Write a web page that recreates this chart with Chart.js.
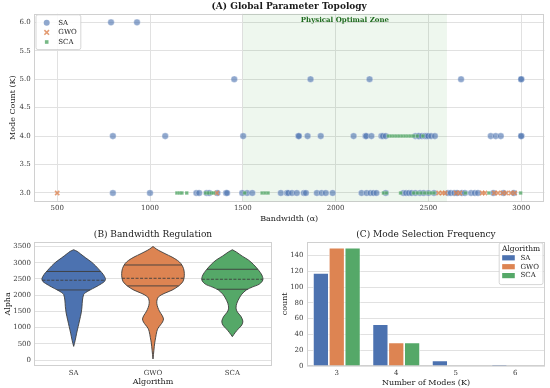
<!DOCTYPE html>
<html>
<head>
<meta charset="utf-8">
<script src="https://cdn.jsdelivr.net/npm/chart.js@4.4.1/dist/chart.umd.min.js"></script>
<style>
html, body { margin: 0; padding: 0; background: #ffffff; }
#wrap { position: relative; width: 550px; height: 388px; }
#wrap canvas { position: absolute; left: 0; top: 0; }
</style>
</head>
<body>
<div id="wrap">
  <canvas id="cA" width="550" height="388"></canvas>
  <canvas id="cB" width="550" height="388"></canvas>
  <canvas id="cC" width="550" height="388"></canvas>
</div>
<script>
// ---------------- DATA ----------------
const ALGORITHMS = ['SA', 'GWO', 'SCA'];
const SERIES_COLORS = ['#4c72b0', '#dd8452', '#55a868'];

// (A) Global Parameter Topology: bandwidth (alpha) per mode count K
const SA_K3_ALPHA = [800, 1000, 1250, 1265, 1305, 1320, 1363, 1410, 1415, 1497, 1523, 1551, 1705, 1738, 1745, 1765, 1791, 1829, 1840, 1899, 1925, 1947, 1984, 2140, 2167, 2188, 2204, 2220, 2270, 2365, 2380, 2395, 2410, 2430, 2455, 2475, 2500, 2530, 2605, 2620, 2640, 2655, 2680, 2697, 2730, 2750, 2767, 2850, 2905, 2960];
const SA_K4_ALPHA = [800, 1082, 1502, 1800, 1802, 1849, 1920, 2097, 2161, 2165, 2193, 2247, 2255, 2270, 2430, 2445, 2450, 2465, 2480, 2490, 2500, 2515, 2535, 2836, 2863, 2890, 3000, 3000];
const SA_K5_ALPHA = [1454, 1865, 2183, 2676, 3000, 3000];
const SA_K6_ALPHA = [790, 930];
const GWO_K3_ALPHA = [500, 1360, 2555, 2575, 2590, 2650, 2670, 2790, 2805, 2855, 2875, 2900, 2920, 2945, 2965];
const SCA_K3_ALPHA = [1145, 1160, 1172, 1198, 1300, 1315, 1330, 1342, 1510, 1604, 1620, 1636, 2258, 2274, 2350, 2420, 2440, 2460, 2480, 2500, 2515, 2530, 2700, 2826, 2997];
const SCA_K4_ALPHA = [2285, 2300, 2315, 2330, 2345, 2360, 2375, 2390, 2405, 2420, 2440, 2470];
const A_X_TICKS = [500, 1000, 1500, 2000, 2500, 3000];
const A_Y_TICKS = [3.0, 3.5, 4.0, 4.5, 5.0, 5.5, 6.0];
const OPTIMAL_ZONE = [1500, 2600];

// (B) Bandwidth Regulation: violin density profiles (alpha grid, top to bottom)
const SA_VIOLIN_ALPHA   = [3400, 3350, 3276, 3150, 3020, 2900, 2766, 2640, 2511, 2430, 2358, 2250, 2154, 2080, 2021, 1850, 1644, 1450, 1236, 1030, 828, 600, 420];
const SA_VIOLIN_DENSITY = [0, 3.5, 6.7, 12, 17.8, 22, 26, 29.5, 31.7, 31, 28, 22, 16, 12, 10, 8.8, 8.3, 7.5, 6, 4.5, 3, 1.5, 0];
const GWO_VIOLIN_ALPHA   = [3500, 3420, 3378, 3280, 3174, 3070, 2970, 2820, 2664, 2530, 2409, 2280, 2154, 2050, 1950, 1850, 1746, 1620, 1490, 1380, 1266, 1170, 1083, 980, 879, 700, 522, 300, 32];
const GWO_VIOLIN_DENSITY = [0, 3.5, 5.8, 12, 19, 24.5, 28, 30.5, 31.3, 31, 29.7, 25.5, 19, 11, 5.5, 4, 3.8, 4.8, 6.7, 9, 10.5, 9.5, 7.5, 5, 3.8, 2.7, 1.7, 0.9, 0];
const SCA_VIOLIN_ALPHA   = [3400, 3330, 3200, 3086, 2950, 2777, 2620, 2470, 2340, 2250, 2160, 2030, 1913, 1750, 1600, 1480, 1350, 1200, 1080, 960, 850, 720];
const SCA_VIOLIN_DENSITY = [0, 4, 10, 16, 21, 26, 29.5, 30.5, 27, 20, 14, 9.5, 7, 4.5, 3.7, 5, 8.5, 10.5, 9.5, 6, 3, 0];
const SA_QUARTILES  = [2160, 2460, 2730];
const GWO_QUARTILES = [2285, 2520, 2930];
const SCA_QUARTILES = [2182, 2490, 2798];
const B_Y_TICKS = [0, 500, 1000, 1500, 2000, 2500, 3000, 3500];

// (C) Mode Selection Frequency
const MODE_CATEGORIES = ['3', '4', '5', '6'];
const SA_COUNTS  = [118, 53, 7, 2];
const GWO_COUNTS = [150, 30, 0, 0];
const SCA_COUNTS = [150, 30, 0, 0];
const C_Y_TICKS = [0, 20, 40, 60, 80, 100, 120, 140];

// ---------------- HELPERS ----------------
const FONT = "'DejaVu Serif', 'Liberation Serif', serif";
const GRID = '#e1e1e1';
const FRAME = '#d0d0d0';
const TICK_COLOR = '#3a3a3a';
const TITLE_COLOR = '#1a1a1a';
Chart.defaults.font.family = FONT;
Chart.defaults.color = TICK_COLOR;

const toPoints = (alphas, k) => alphas.map(a => ({ x: a, y: k }));
const setTicks = values => s => { s.ticks = values.map(v => ({ value: v })); };
const fixW = w => s => { s.width = w; };
const fixH = h => s => { s.height = h; };
const plain = v => String(v);
function hexA(hex, a) {
  const n = parseInt(hex.slice(1), 16);
  return `rgba(${(n >> 16) & 255},${(n >> 8) & 255},${n & 255},${a})`;
}
function interp(ys, ds, q) {
  for (let i = 0; i < ys.length - 1; i++) {
    const a = ys[i], b = ys[i + 1];
    if ((q <= a && q >= b) || (q >= a && q <= b)) {
      const t = (q - a) / (b - a);
      return ds[i] + t * (ds[i + 1] - ds[i]);
    }
  }
  return 0;
}

const framePlugin = {
  id: 'frame',
  beforeDatasetsDraw(chart) {
    const { ctx, chartArea: a } = chart;
    ctx.save();
    ctx.strokeStyle = FRAME;
    ctx.lineWidth = 1;
    ctx.strokeRect(Math.round(a.left) + 0.5, Math.round(a.top) + 0.5,
      Math.round(a.right - a.left) - 1, Math.round(a.bottom - a.top) - 1);
    ctx.restore();
  }
};

const zonePlugin = {
  id: 'zone',
  beforeDatasetsDraw(chart, args, o) {
    if (!o || !o.range) return;
    const { ctx, chartArea: a, scales: { x } } = chart;
    const x0 = x.getPixelForValue(o.range[0]);
    const x1 = x.getPixelForValue(o.range[1]);
    ctx.save();
    ctx.fillStyle = o.color;
    ctx.fillRect(x0, a.top, x1 - x0, a.bottom - a.top);
    ctx.font = `bold ${o.fontSize}px ${FONT}`;
    ctx.fillStyle = o.labelColor;
    ctx.textAlign = 'center';
    ctx.textBaseline = 'middle';
    ctx.fillText(o.label, (x0 + x1) / 2, a.top + o.labelOffset);
    ctx.restore();
  }
};

function drawMarker(ctx, style, x, y, color) {
  ctx.save();
  if (style === 'circle') {
    ctx.fillStyle = color;
    ctx.beginPath(); ctx.arc(x, y, 3, 0, Math.PI * 2); ctx.fill();
  } else if (style === 'crossRot') {
    ctx.strokeStyle = color; ctx.lineWidth = 1.6;
    ctx.beginPath();
    ctx.moveTo(x - 2.3, y - 2.3); ctx.lineTo(x + 2.3, y + 2.3);
    ctx.moveTo(x + 2.3, y - 2.3); ctx.lineTo(x - 2.3, y + 2.3);
    ctx.stroke();
  } else if (style === 'rect') {
    ctx.fillStyle = color; ctx.fillRect(x - 1.8, y - 1.8, 3.6, 3.6);
  } else if (style === 'patch') {
    ctx.fillStyle = color; ctx.fillRect(x - 6.3, y - 2.6, 12.6, 5.2);
  }
  ctx.restore();
}

const boxLegend = {
  id: 'boxLegend',
  afterDatasetsDraw(chart, args, o) {
    if (!o || !o.items) return;
    const { ctx, chartArea: a } = chart;
    ctx.save();
    ctx.font = `${o.fontSize}px ${FONT}`;
    let tw = 0;
    o.items.forEach(it => { tw = Math.max(tw, ctx.measureText(it.label).width); });
    let titleW = 0;
    if (o.title) { ctx.font = `${o.titleSize}px ${FONT}`; titleW = ctx.measureText(o.title).width; }
    const w = Math.max(o.textX + tw + 4, titleW + 5);
    const titleH = o.title ? o.titleH : 0;
    const h = o.firstRow + titleH + (o.items.length - 1) * o.rowH + o.lastPad;
    const x0 = o.align === 'right' ? a.right - o.dx - w : a.left + o.dx;
    const y0 = a.top + o.dy;
    const r = 2;
    ctx.beginPath();
    ctx.moveTo(x0 + r, y0); ctx.lineTo(x0 + w - r, y0); ctx.arcTo(x0 + w, y0, x0 + w, y0 + r, r);
    ctx.lineTo(x0 + w, y0 + h - r); ctx.arcTo(x0 + w, y0 + h, x0 + w - r, y0 + h, r);
    ctx.lineTo(x0 + r, y0 + h); ctx.arcTo(x0, y0 + h, x0, y0 + h - r, r);
    ctx.lineTo(x0, y0 + r); ctx.arcTo(x0, y0, x0 + r, y0, r);
    ctx.closePath();
    ctx.fillStyle = 'rgba(255,255,255,0.85)'; ctx.fill();
    ctx.strokeStyle = '#cccccc'; ctx.lineWidth = 0.8; ctx.stroke();
    ctx.textBaseline = 'middle';
    if (o.title) {
      ctx.font = `${o.titleSize}px ${FONT}`;
      ctx.fillStyle = TITLE_COLOR; ctx.textAlign = 'center';
      ctx.fillText(o.title, x0 + w / 2, y0 + o.titleY);
    }
    ctx.font = `${o.fontSize}px ${FONT}`;
    ctx.textAlign = 'left';
    o.items.forEach((it, i) => {
      const cy = y0 + o.firstRow + titleH + i * o.rowH;
      drawMarker(ctx, it.style, x0 + o.markerX, cy, it.color);
      ctx.fillStyle = TITLE_COLOR;
      ctx.fillText(it.label, x0 + o.textX, cy);
    });
    ctx.restore();
  }
};

// ---------------- (A) SCATTER ----------------
new Chart(document.getElementById('cA'), {
  type: 'scatter',
  data: {
    datasets: [
      { label: 'SA', order: 3,
        data: toPoints(SA_K3_ALPHA, 3).concat(toPoints(SA_K4_ALPHA, 4), toPoints(SA_K5_ALPHA, 5), toPoints(SA_K6_ALPHA, 6)),
        pointStyle: 'circle', pointRadius: 3.3, backgroundColor: hexA(SERIES_COLORS[0], 0.62),
        borderColor: 'rgba(255,255,255,0.7)', borderWidth: 0.5 },
      { label: 'GWO', order: 2,
        data: toPoints(GWO_K3_ALPHA, 3),
        pointStyle: 'crossRot', pointRadius: 3, backgroundColor: hexA(SERIES_COLORS[1], 0.8),
        borderColor: hexA(SERIES_COLORS[1], 0.8), borderWidth: 1.6 },
      { label: 'SCA', order: 1,
        data: toPoints(SCA_K3_ALPHA, 3).concat(toPoints(SCA_K4_ALPHA, 4)),
        pointStyle: 'rect', pointRadius: 2.5, backgroundColor: hexA(SERIES_COLORS[2], 0.8),
        borderColor: 'rgba(255,255,255,0.5)', borderWidth: 0.4 }
    ]
  },
  options: {
    responsive: false, animation: false, events: [],
    layout: { padding: { left: 0, right: 4, top: 0, bottom: 164.5 } },
    plugins: {
      legend: { display: false }, tooltip: { enabled: false },
      title: { display: true, fullSize: false, text: '(A) Global Parameter Topology', color: TITLE_COLOR,
        font: { size: 9, weight: 'bold' }, padding: { top: 1.5, bottom: 1.5 } },
      zone: { range: OPTIMAL_ZONE, color: 'rgba(0,128,0,0.065)', label: 'Physical Optimal Zone',
        labelColor: '#1e6b1e', fontSize: 7, labelOffset: 6 },
      boxLegend: { align: 'left', dx: 2, dy: 1, fontSize: 7, firstRow: 8, rowH: 9.6, lastPad: 7.6,
        markerX: 10.7, textX: 22.3,
        items: ALGORITHMS.map((l, i) => ({ label: l, color: hexA(SERIES_COLORS[i], i === 0 ? 0.62 : 0.8), style: ['circle', 'crossRot', 'rect'][i] })) }
    },
    scales: {
      x: { type: 'linear', min: 375, max: 3125, afterBuildTicks: setTicks(A_X_TICKS), afterFit: fixH(22),
        ticks: { font: { size: 7 }, padding: 2.8, color: TICK_COLOR, callback: plain },
        grid: { color: GRID, drawTicks: false }, border: { display: false },
        title: { display: true, text: 'Bandwidth (α)', color: TITLE_COLOR, font: { size: 8 }, padding: { top: 0, bottom: 0 } } },
      y: { type: 'linear', min: 2.85, max: 6.15, afterBuildTicks: setTicks(A_Y_TICKS), afterFit: fixW(34),
        ticks: { font: { size: 7 }, padding: 3.3, color: TICK_COLOR, callback: v => Number(v).toFixed(1) },
        grid: { color: GRID, drawTicks: false }, border: { display: false },
        title: { display: true, text: 'Mode Count (K)', color: TITLE_COLOR, font: { size: 8 }, padding: { top: 8, bottom: 0 } } }
    }
  },
  plugins: [framePlugin, zonePlugin, boxLegend]
});

// ---------------- (B) VIOLINS ----------------
const VIOLINS = [
  [SA_VIOLIN_ALPHA, SA_VIOLIN_DENSITY, SA_QUARTILES],
  [GWO_VIOLIN_ALPHA, GWO_VIOLIN_DENSITY, GWO_QUARTILES],
  [SCA_VIOLIN_ALPHA, SCA_VIOLIN_DENSITY, SCA_QUARTILES]
];
const MAX_DENSITY = Math.max(...VIOLINS.map(v => Math.max(...v[1])));
const HALF_WIDTH = 0.4;
const violinDatasets = [];
VIOLINS.forEach(([ys, ds, qs], i) => {
  const k = HALF_WIDTH / MAX_DENSITY;
  const right = ys.map((y, j) => ({ x: i + ds[j] * k, y }));
  const left = ys.map((y, j) => ({ x: i - ds[j] * k, y })).reverse();
  violinDatasets.push({ label: ALGORITHMS[i], order: 2, data: right.concat(left), showLine: true, fill: 'shape',
    backgroundColor: SERIES_COLORS[i], borderColor: '#3d3d3d', borderWidth: 0.9, pointRadius: 0, tension: 0.3 });
  qs.forEach((q, qi) => {
    const w = interp(ys, ds, q) * k;
    violinDatasets.push({ label: ALGORITHMS[i] + ' q' + (qi + 1), order: 1,
      data: [{ x: i - w, y: q }, { x: i + w, y: q }], showLine: true, fill: false,
      borderColor: '#3d3d3d', borderWidth: 0.9, borderDash: qi === 1 ? [3, 1.5] : [], pointRadius: 0 });
  });
});

new Chart(document.getElementById('cB'), {
  type: 'scatter',
  data: { datasets: violinDatasets },
  options: {
    responsive: false, animation: false, events: [],
    layout: { padding: { left: 0, right: 278, top: 228, bottom: 0 } },
    plugins: {
      legend: { display: false }, tooltip: { enabled: false },
      title: { display: true, fullSize: false, text: '(B) Bandwidth Regulation', color: TITLE_COLOR,
        font: { size: 9, weight: 'normal' }, padding: { top: 1.5, bottom: 1.5 } }
    },
    scales: {
      x: { type: 'linear', min: -0.5, max: 2.5, afterBuildTicks: setTicks([0, 1, 2]), afterFit: fixH(22),
        ticks: { font: { size: 7 }, padding: 2.5, color: TICK_COLOR, callback: v => ALGORITHMS[v] },
        grid: { display: false, drawTicks: false }, border: { display: false },
        title: { display: true, text: 'Algorithm', color: TITLE_COLOR, font: { size: 8 }, padding: { top: 0, bottom: 1.5 } } },
      y: { type: 'linear', min: -185, max: 3645, afterBuildTicks: setTicks(B_Y_TICKS), afterFit: fixW(34),
        ticks: { font: { size: 7 }, padding: 3, color: TICK_COLOR, callback: plain },
        grid: { color: GRID, drawTicks: false }, border: { display: false },
        title: { display: true, text: 'Alpha', color: TITLE_COLOR, font: { size: 8 }, padding: { top: 2.7, bottom: 0 } } }
    }
  },
  plugins: [framePlugin]
});

// ---------------- (C) BARS ----------------
const COUNT_SERIES = [SA_COUNTS, GWO_COUNTS, SCA_COUNTS];
new Chart(document.getElementById('cC'), {
  type: 'bar',
  data: {
    labels: MODE_CATEGORIES,
    datasets: COUNT_SERIES.map((vals, i) => ({
      label: ALGORITHMS[i], data: vals, backgroundColor: SERIES_COLORS[i],
      borderColor: '#ffffff', borderWidth: c => (c.raw > 0 ? 0.8 : 0), borderSkipped: 'bottom',
      categoryPercentage: 0.8, barPercentage: 1.0
    }))
  },
  options: {
    responsive: false, animation: false, events: [],
    layout: { padding: { left: 275, right: 5, top: 228, bottom: 0 } },
    plugins: {
      legend: { display: false }, tooltip: { enabled: false },
      title: { display: true, fullSize: false, text: '(C) Mode Selection Frequency', color: TITLE_COLOR,
        font: { size: 9, weight: 'normal' }, padding: { top: 1.5, bottom: 1.5 } },
      boxLegend: { align: 'right', dx: 2, dy: 1, fontSize: 7, title: 'Algorithm', titleSize: 7.5, titleY: 6.3, titleH: 8.7,
        firstRow: 6.3, rowH: 8.9, lastPad: 9, markerX: 9.3, textX: 21.3,
        items: ALGORITHMS.map((l, i) => ({ label: l, color: SERIES_COLORS[i], style: 'patch' })) }
    },
    scales: {
      x: { type: 'category', afterFit: fixH(22),
        ticks: { font: { size: 7 }, padding: 2.5, color: TICK_COLOR },
        grid: { display: false, drawTicks: false }, border: { display: false },
        title: { display: true, text: 'Number of Modes (K)', color: TITLE_COLOR, font: { size: 8 }, padding: { top: 0, bottom: 0.5 } } },
      y: { type: 'linear', min: 0, max: 157.5, afterBuildTicks: setTicks(C_Y_TICKS), afterFit: fixW(32),
        ticks: { font: { size: 7 }, padding: 3.5, color: TICK_COLOR, callback: plain },
        grid: { color: GRID, drawTicks: false }, border: { display: false },
        title: { display: true, text: 'count', color: TITLE_COLOR, font: { size: 8 }, padding: { top: 4.7, bottom: 0 } } }
    }
  },
  plugins: [framePlugin, boxLegend]
});
</script>
</body>
</html>
